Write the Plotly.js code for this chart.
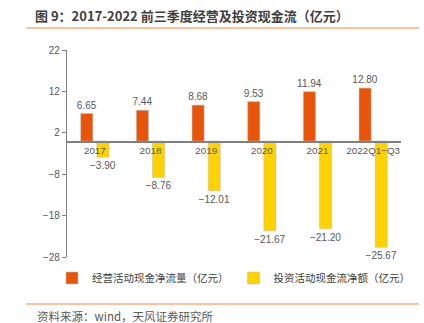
<!DOCTYPE html>
<html>
<head>
<meta charset="utf-8">
<script src="https://cdn.plot.ly/plotly-3.0.1.min.js"></script>
<style>html,body{margin:0;padding:0;background:#fff;}#chart{width:424px;height:323px;}</style>
</head>
<body>
<div id="chart"></div>
<script>
const categories = ['2017', '2018', '2019', '2020', '2021', '2022Q1−Q3'];
const operatingCF = [6.65, 7.44, 8.68, 9.53, 11.94, 12.80];
const investingCF = [-3.90, -8.76, -12.01, -21.67, -21.20, -25.67];
const yTicks = [22, 12, 2, -8, -18, -28];
const seriesNames = ['经营活动现金净流量（亿元）', '投资活动现金流净额（亿元）'];
const titleText = '图 9：2017-2022 前三季度经营及投资现金流（亿元）';
const sourceText = '资料来源：wind，天风证券研究所';

const FONT = 'Liberation Sans, Arial, Noto Sans CJK SC, sans-serif';
const CJK = 'Noto Sans CJK SC, Liberation Sans, sans-serif';
const fmt = v => (v < 0 ? '−' : '') + Math.abs(v).toFixed(2);
const yMin = -28, yMax = 22;

const traces = [
  {
    type: 'bar', name: seriesNames[0], x: categories, y: operatingCF,
    marker: {color: '#E8550A', line: {color: 'rgba(190,190,190,0.7)', width: 0.8}},
    text: operatingCF.map(fmt), textposition: 'outside', cliponaxis: false, constraintext: 'none',
    textfont: {family: FONT, size: 10, color: '#595959'}, hoverinfo: 'none'
  },
  {
    type: 'bar', name: seriesNames[1], x: categories, y: investingCF,
    marker: {color: '#FFD200', line: {color: 'rgba(190,190,190,0.7)', width: 0.8}},
    text: investingCF.map(fmt), textposition: 'outside', cliponaxis: false, constraintext: 'none',
    textfont: {family: FONT, size: 10, color: '#595959'}, hoverinfo: 'none'
  }
];

const L = 67, R = 23, T = 50, B = 66, W = 424, H = 323;
const pw = W - L - R, ph = H - T - B;
const px = x => (x - L) / pw;
const py = y => (H - B - y) / ph;

const layout = {
  width: W, height: H,
  margin: {l: L, r: R, t: T, b: B, pad: 0},
  paper_bgcolor: '#fff', plot_bgcolor: '#fff',
  font: {family: FONT, color: '#595959', size: 10},
  barmode: 'group', bargap: 0.42, bargroupgap: 0.25,
  showlegend: true,
  title: {
    text: '<b>' + titleText + '</b>',
    font: {family: CJK, size: 13, color: '#404040'},
    x: 35 / W, xref: 'container', xanchor: 'left',
    y: 1 - 16 / H, yref: 'container', yanchor: 'middle'
  },
  xaxis: {
    type: 'category', anchor: 'free', position: (0 - yMin) / (yMax - yMin),
    showline: true, linecolor: '#808080', linewidth: 1.5,
    ticks: '', showgrid: false, zeroline: false,
    tickfont: {family: FONT, size: 9.8, color: '#595959'}
  },
  yaxis: {
    range: [yMin, yMax], tickvals: yTicks, ticktext: yTicks.map(v => (v < 0 ? '−' : '') + Math.abs(v)),
    showline: true, linecolor: '#808080', linewidth: 1.2,
    ticks: 'outside', ticklen: 4, tickcolor: '#808080', tickwidth: 1,
    showgrid: false, zeroline: false,
    tickfont: {family: FONT, size: 10, color: '#595959'}
  },
  legend: {
    orientation: 'h', xref: 'paper', yref: 'paper',
    x: px(52), xanchor: 'left', y: py(278), yanchor: 'middle',
    font: {family: CJK, size: 10.5, color: '#404040'},
    itemwidth: 30, tracegroupgap: 0, bgcolor: 'rgba(0,0,0,0)'
  },
  shapes: [
    {type: 'line', xref: 'paper', yref: 'paper', x0: px(26), x1: px(419), y0: py(28), y1: py(28),
     line: {color: '#F4B183', width: 1.5}},
    {type: 'line', xref: 'paper', yref: 'paper', x0: px(26), x1: px(419), y0: py(304), y1: py(304),
     line: {color: '#F4B183', width: 1.5}}
  ],
  annotations: [
    {text: sourceText, xref: 'paper', yref: 'paper', x: px(35), y: py(315.5),
     xanchor: 'left', yanchor: 'middle', showarrow: false,
     font: {family: CJK, size: 11.5, color: '#595959'}}
  ]
};

Plotly.newPlot('chart', traces, layout, {displayModeBar: false, staticPlot: true});
</script>
</body>
</html>
